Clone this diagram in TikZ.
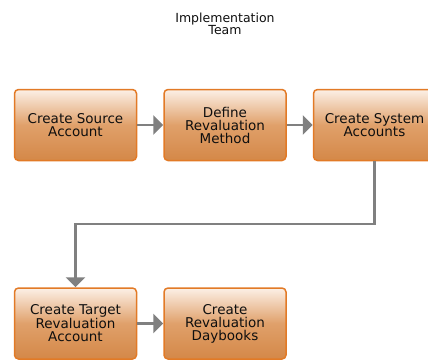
\documentclass[tikz,border=0pt]{standalone}
\usepackage{fontspec}
\setmainfont{DejaVu Sans}
\usepackage{tikz}
\usetikzlibrary{arrows.meta,positioning}

\definecolor{boxedge}{RGB}{226,122,38}
\definecolor{boxtop}{RGB}{252,240,230}
\definecolor{boxmid}{RGB}{224,160,106}
\definecolor{boxbot}{RGB}{212,136,72}
\definecolor{flowgray}{RGB}{128,128,128}
\definecolor{txt}{RGB}{15,15,15}

\begin{document}
\begin{tikzpicture}[x=1pt, y=-1pt, node distance=126pt and 26pt,
  task/.style={draw=boxedge, line width=1.5pt, rounded corners=4pt, minimum width=122pt, minimum height=71pt,
    align=center, text=txt, font=\fontsize{13.5}{13}\selectfont, inner sep=1pt,
    top color=boxtop, bottom color=boxbot, middle color=boxmid},
  flow/.style={draw=flowgray, line width=2.2pt, -{Triangle[length=10pt, width=19pt]}}]
  \useasboundingbox (0,0) rectangle (428,361);
  \clip (0,0) rectangle (428,361);
  \node[align=center, text=txt, font=\fontsize{12.5}{12.5}\selectfont] (team) at (225,24) {Implementation\\Team};
  \node[task] (srcacc) at (75.5,125) {Create Source\\Account};
  \node[task, right=of srcacc] (revmeth) {Define\\Revaluation\\Method};
  \node[task, right=of revmeth] (sysacc) {Create System\\Accounts};
  \node[task, below=of srcacc] (tgtacc) {Create Target\\Revaluation\\Account};
  \node[task, right=of tgtacc] (daybk) {Create\\Revaluation\\Daybooks};
  \draw[flow] (srcacc) -- (revmeth);
  \draw[flow] (revmeth) -- (sysacc);
  % down, across, then down to the second row
  \draw[flow] (sysacc.south) -- ++(0,63) -| (tgtacc.north);
  \draw[flow] (tgtacc) -- (daybk);
\end{tikzpicture}
\end{document}
